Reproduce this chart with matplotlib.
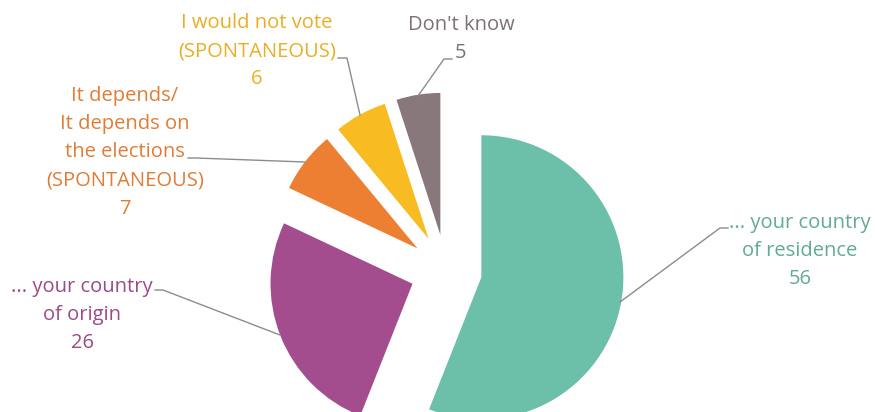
import matplotlib.pyplot as plt

# Vote preference shares (%)
categories = ["... your country\nof residence", "... your country\nof origin",
              "It depends/\nIt depends on\nthe elections\n(SPONTANEOUS)",
              "I would not vote\n(SPONTANEOUS)", "Don't know"]
values = [56, 26, 7, 6, 5]

slice_colors = ["#6CBFA8", "#A34D8E", "#ED7F33", "#F9BB22", "#89787B"]
text_colors = ["#62AA98", "#9C4A88", "#E27B35", "#E9AE24", "#7E7175"]

# label block centres and leader lines, in pixel units (y measured from the bottom)
H = 412
label_pos = [(800, H - 251), (82, H - 315), (125, H - 152), (257, H - 51), (461, H - 39)]
leaders = [
    [(728, 228), (720, 228), (620, 302)],
    [(155, 290), (163, 290), (280, 335)],
    [(188, 158), (196, 158), (305, 162)],
    [(338, 58), (347, 58), (360, 115)],
    [(452, 59), (444, 59), (418, 96)],
]

plt.rcParams["font.family"] = ["Open Sans", "DejaVu Sans"]

fig = plt.figure(figsize=(8.75, 4.12), dpi=100)
ax = fig.add_axes([0, 0, 1, 1])

ax.pie(values, colors=slice_colors, startangle=90, counterclock=False,
       radius=142, center=(446, H - 270.5), explode=[36] * len(values),
       wedgeprops=dict(linewidth=0))

for pts in leaders:
    xs = [p[0] for p in pts]
    ys = [H - p[1] for p in pts]
    ax.plot(xs, ys, color="#8C8C8C", linewidth=1)

for cat, val, (tx, ty), col in zip(categories, values, label_pos, text_colors):
    ax.text(tx, ty, f"{cat}\n{val}", ha="center", va="center",
            color=col, fontsize=14.5, linespacing=1.55)

ax.set_xlim(0, 875)
ax.set_ylim(0, H)
ax.set_aspect("equal")
ax.axis("off")

plt.savefig("out.png", dpi=100)
